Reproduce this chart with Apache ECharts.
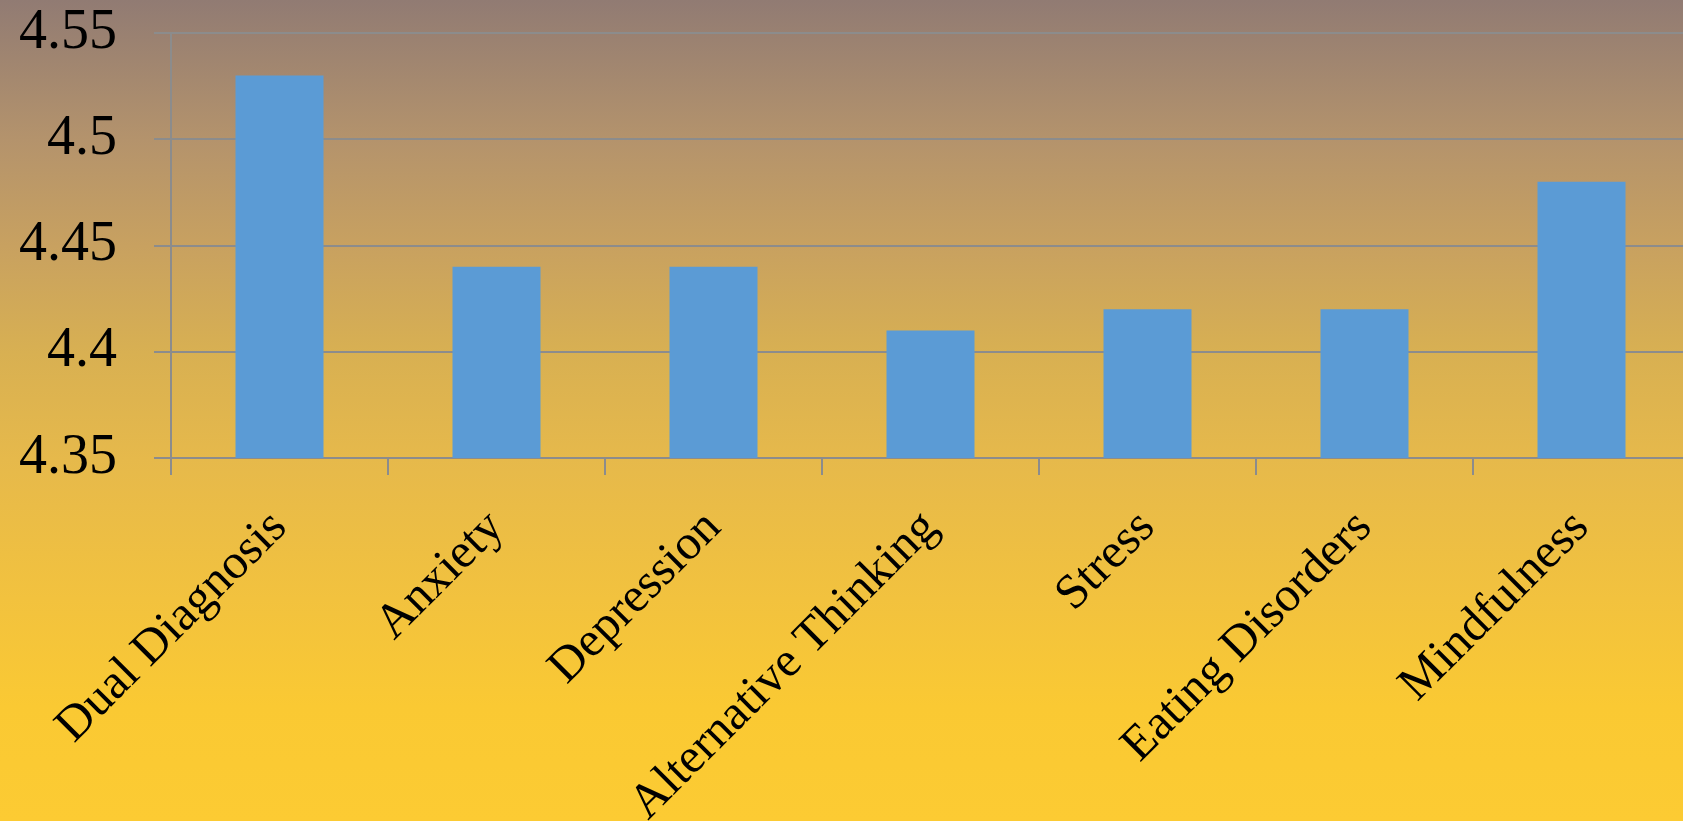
<!DOCTYPE html>
<html>
<head>
<meta charset="utf-8">
<script src="https://cdn.jsdelivr.net/npm/echarts@6/dist/echarts.min.js"></script>
<style>
html,body{margin:0;padding:0;overflow:hidden;width:1683px;height:821px;}
#chart{width:1690px;height:821px;}
</style>
</head>
<body>
<div id="chart"></div>
<script>
const categories = ['Dual Diagnosis','Anxiety','Depression','Alternative Thinking','Stress','Eating Disorders','Mindfulness'];
const values = [4.53, 4.44, 4.44, 4.41, 4.42, 4.42, 4.48];
const yTicks = ['4.35','4.4','4.45','4.5','4.55'];

const chart = echarts.init(document.getElementById('chart'));
chart.setOption({
  backgroundColor: {
    type:'linear', x:0, y:0, x2:0, y2:1,
    colorStops:[
      {offset:0, color:'#917b73'},
      {offset:0.17, color:'#b4936c'},
      {offset:0.3, color:'#c8a160'},
      {offset:0.43, color:'#d8b052'},
      {offset:0.56, color:'#e6b94b'},
      {offset:0.73, color:'#f2c23e'},
      {offset:0.86, color:'#fac933'},
      {offset:1, color:'#fccb33'}
    ]
  },
  animation:false,
  grid:{left:171, right:0, top:33, bottom:363, containLabel:false, outerBoundsMode:'none'},
  xAxis:{
    type:'category',
    data:categories,
    axisLine:{lineStyle:{color:'#8c8c8c', width:2}},
    axisTick:{show:true, length:17, lineStyle:{color:'#8c8c8c', width:2}},
    axisLabel:{rotate:45, margin:62, fontFamily:'"Liberation Serif", serif', fontSize:49, color:'#000', interval:0}
  },
  yAxis:{
    type:'value',
    min:4.35, max:4.55, interval:0.05,
    axisLine:{show:true, lineStyle:{color:'#8c8c8c', width:2}},
    axisTick:{show:true, length:17, lineStyle:{color:'#8c8c8c', width:2}},
    splitLine:{show:true, lineStyle:{color:'#8c8c8c', width:2}},
    axisLabel:{
      margin:54, fontFamily:'"Liberation Serif", serif', fontSize:56, color:'#000',
      formatter:function(v){
        const i = Math.round((v-4.35)/0.05);
        return yTicks[i] !== undefined ? yTicks[i] : '';
      }
    }
  },
  series:[{
    type:'bar',
    data:values,
    barWidth:88,
    itemStyle:{color:'#5b9bd5'}
  }]
});
</script>
</body>
</html>
